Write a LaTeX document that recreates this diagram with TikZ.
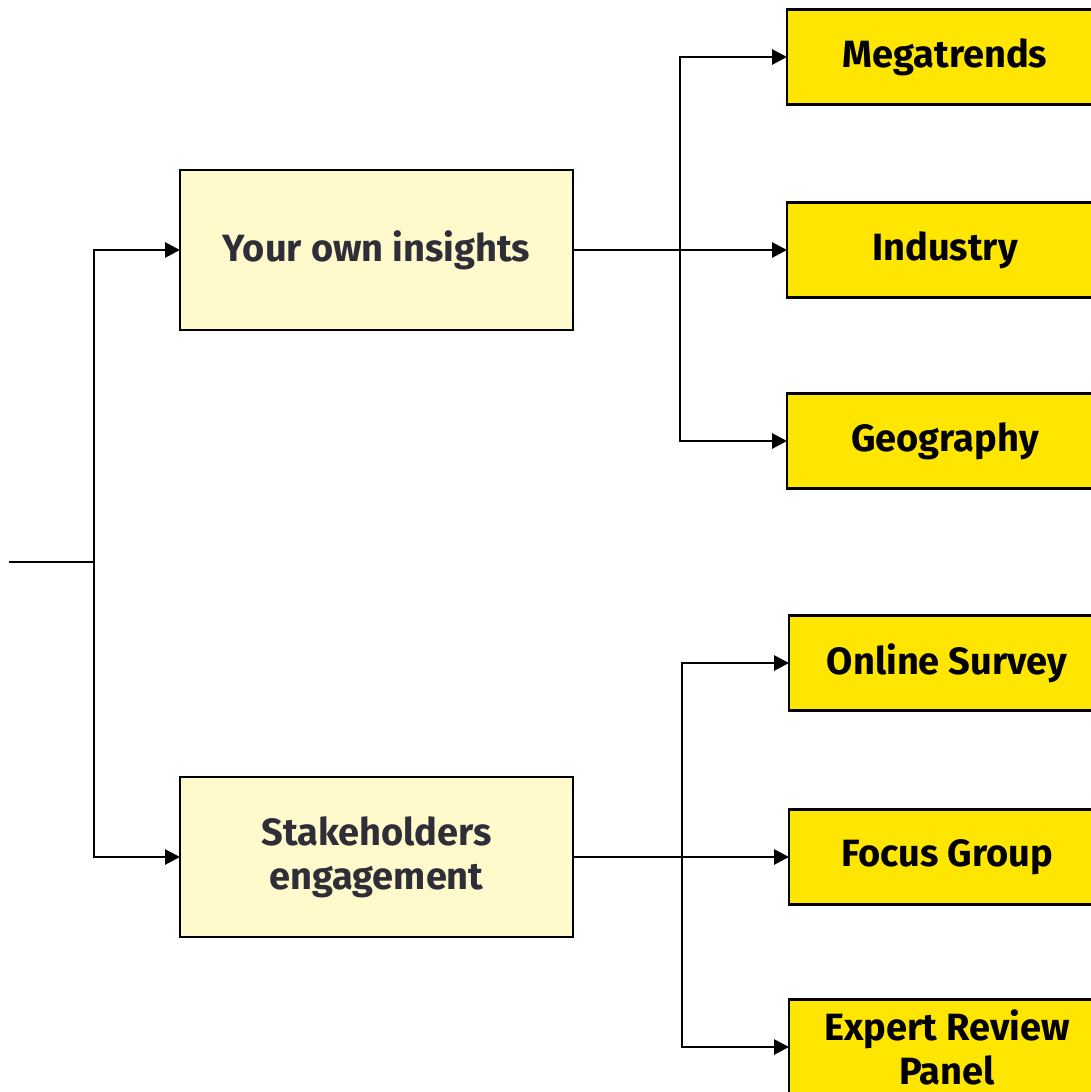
\documentclass[tikz,border=0pt]{standalone}
\usepackage{fontspec}
\setmainfont{Fira Sans}
\usetikzlibrary{arrows.meta}
\definecolor{eyyellow}{HTML}{FFE600}
\definecolor{eylight}{HTML}{FFF9CC}
\definecolor{eydark}{HTML}{2E2E38}
\tikzset{
  conn/.style={line width=2.8pt, draw=black},
  arr/.style={conn, -{Triangle[length=15pt,width=15pt]}},
  boxbase/.style={draw=black, line width=2.4pt, inner sep=0pt, outer sep=0pt, align=center, anchor=center, font=\fontsize{38}{44}\selectfont\bfseries},
  mainbox/.style={boxbase, fill=eylight, minimum width=393pt, minimum height=160pt, text=eydark},
  leafbox/.style={boxbase, fill=eyyellow, minimum width=316pt, minimum height=95pt, text=black},
}
\begin{document}
\begin{tikzpicture}[x=1pt,y=-1pt]
\useasboundingbox (0,0) rectangle (1091,1092);
\clip (0,0) rectangle (1091,1092);
\fill[white] (0,0) rectangle (1091,1092);
\node[mainbox] (ins) at (376.5,250) {Your own insights};
\node[mainbox] (stk) at (376.5,857) {Stakeholders\\engagement};
\node[leafbox] (meg) at (945,57) {Megatrends};
\node[leafbox] (ind) at (945,250) {Industry};
\node[leafbox] (geo) at (945,441) {Geography};
\node[leafbox] (onl) at (947,663) {Online Survey};
\node[leafbox] (foc) at (947,857) {Focus Group};
\node[leafbox] (exp) at (947,1047) {Expert Review\\Panel};
\coordinate (start) at (9,562);
\coordinate (j0) at (94,562);
\coordinate (j1) at (680,250);
\coordinate (j2) at (682,857);
\draw[conn] (start) -- (j0);
\draw[arr] (j0) |- (ins.west);
\draw[arr] (j0) |- (stk.west);
\draw[conn] (ins.east) -- (j1);
\draw[arr] (j1) |- (meg.west);
\draw[arr] (j1) -- (ind.west);
\draw[arr] (j1) |- (geo.west);
\draw[conn] (stk.east) -- (j2);
\draw[arr] (j2) |- (onl.west);
\draw[arr] (j2) -- (foc.west);
\draw[arr] (j2) |- (exp.west);
\end{tikzpicture}
\end{document}
